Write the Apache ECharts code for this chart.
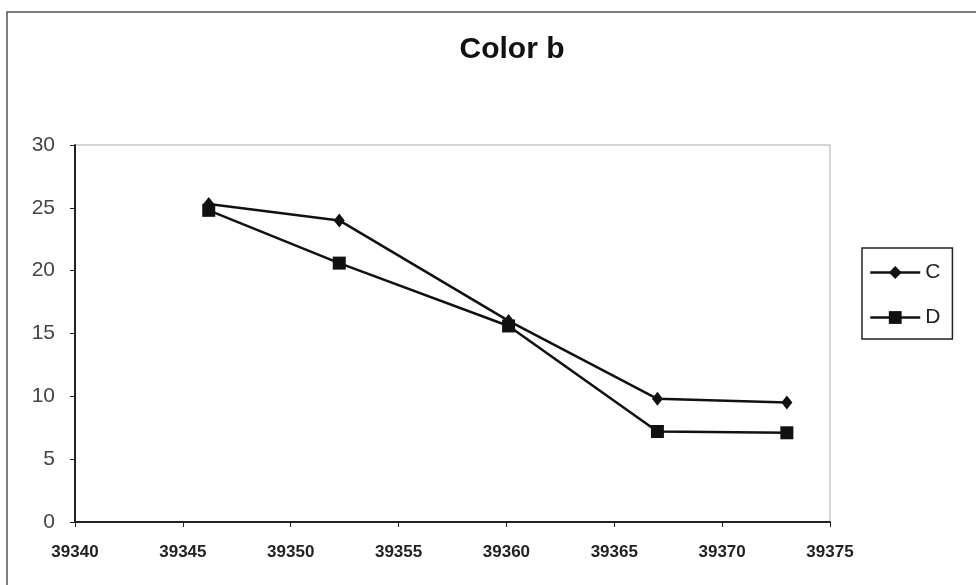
<!DOCTYPE html>
<html>
<head>
<meta charset="utf-8">
<script src="https://cdn.jsdelivr.net/npm/echarts@6/dist/echarts.min.js"></script>
<style>
  html, body { margin: 0; padding: 0; background: #fff; }
  #chart { width: 976px; height: 585px; }
</style>
</head>
<body>
<div id="chart"></div>
<script>
// Sample days (Excel serial dates) and measured values
const xDays = [39346.2, 39352.25, 39360.1, 39367, 39373];
const valuesC = [25.3, 24.0, 16.0, 9.8, 9.5];
const valuesD = [24.8, 20.6, 15.6, 7.2, 7.1];
const seriesNames = ['C', 'D'];
const chartTitle = 'Color b';

const pairs = (xs, ys) => xs.map((x, i) => [x, ys[i]]);

const chart = echarts.init(document.getElementById('chart'));
chart.setOption({
  backgroundColor: '#ffffff',
  animation: false,
  title: {
    text: chartTitle,
    left: 507,
    textAlign: 'center',
    top: 30,
    textStyle: { fontFamily: 'Liberation Sans, Arial', fontWeight: 'bold', fontSize: 30, color: '#111' }
  },
  graphic: [{
    type: 'rect',
    shape: { x: 7, y: 12, width: 990, height: 600 },
    style: { fill: 'none', stroke: '#555', lineWidth: 1.5 },
    silent: true,
    z: -1
  }],
  legend: {
    orient: 'vertical',
    left: 862,
    top: 248,
    padding: [14, 12, 11, 7],
    itemGap: 24,
    itemWidth: 50,
    itemHeight: 16,
    borderColor: '#222',
    borderWidth: 1.5,
    backgroundColor: '#fff',
    data: seriesNames,
    lineStyle: { width: 2.5 },
    textStyle: { fontFamily: 'Liberation Sans, Arial', fontSize: 21, color: '#222' }
  },
  grid: {
    left: 75, right: 146, top: 145, bottom: 63,
    show: true, borderColor: '#aaa', borderWidth: 1, backgroundColor: '#fff'
  },
  xAxis: {
    type: 'value',
    min: 39340, max: 39375, interval: 5,
    splitLine: { show: false },
    axisLine: { show: true, onZero: false, lineStyle: { color: '#222', width: 2 } },
    axisTick: { show: true, length: 5, lineStyle: { color: '#222' } },
    axisLabel: {
      margin: 22,
      formatter: v => String(v),
      fontFamily: 'Liberation Sans, Arial', fontWeight: 'bold', fontSize: 17, color: '#222'
    }
  },
  yAxis: {
    type: 'value',
    min: 0, max: 30, interval: 5,
    splitLine: { show: false },
    axisLine: { show: true, lineStyle: { color: '#222', width: 2 } },
    axisTick: { show: true, length: 5, lineStyle: { color: '#222' } },
    axisLabel: {
      margin: 20,
      fontFamily: 'Liberation Sans, Arial', fontSize: 21, color: '#444'
    }
  },
  series: [
    {
      name: 'D', type: 'line',
      data: pairs(xDays, valuesD),
      symbol: 'rect', symbolSize: 13,
      lineStyle: { color: '#111', width: 2.5 },
      itemStyle: { color: '#111' },
      z: 2
    },
    {
      name: 'C', type: 'line',
      data: pairs(xDays, valuesC),
      symbol: 'diamond', symbolSize: [11, 14],
      lineStyle: { color: '#111', width: 2.5 },
      itemStyle: { color: '#111' },
      z: 3
    }
  ]
});
</script>
</body>
</html>
